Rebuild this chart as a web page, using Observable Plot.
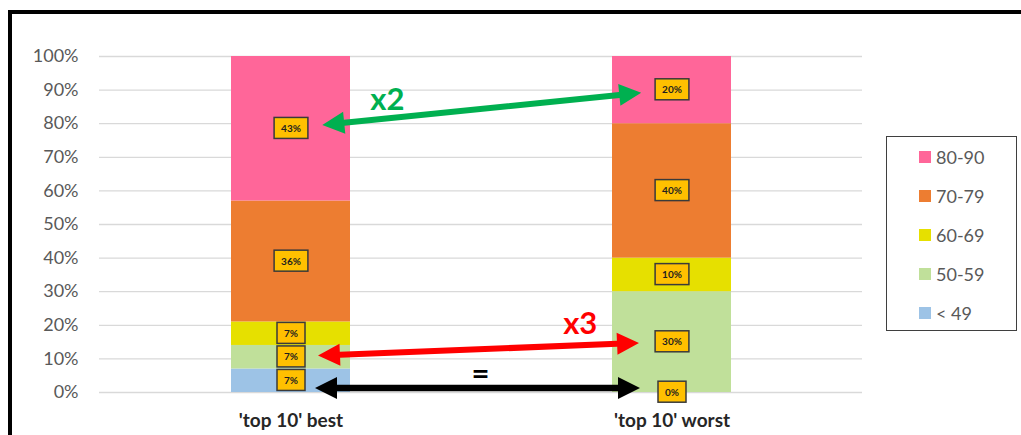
<!DOCTYPE html>
<html>
<head>
<meta charset="utf-8">
<script src="https://cdn.jsdelivr.net/npm/d3@7"></script>
<script src="https://cdn.jsdelivr.net/npm/@observablehq/plot@0.6"></script>
<style>
  html, body { margin: 0; padding: 0; background: #fff; }
  #wrap { position: relative; width: 1021px; height: 435px; overflow: hidden; background: #fff; }
  #wrap svg { position: absolute; left: 0; top: 0; background: transparent; }
  #frame { position: absolute; left: 8px; top: 10px; width: 1100px; height: 600px; border: 4px solid #000; box-sizing: border-box; pointer-events: none; }
  #legend { position: absolute; left: 886px; top: 136px; width: 131px; height: 195px; box-sizing: border-box;
            border: 1.5px solid #3f3f3f; padding-top: 1px; font-family: Lato, "Open Sans", sans-serif; font-size: 18px; color: #595959; }
  .item { height: 38.8px; display: flex; align-items: center; padding-left: 32px; }
  .sw { width: 12px; height: 12px; margin-right: 5px; flex: none; }
</style>
</head>
<body>
<div id="wrap"><div id="legend"></div><div id="frame"></div></div>
<script>
// ---- data ----
const groups = ["'top 10' best", "'top 10' worst"];
const bands = ["< 49", "50-59", "60-69", "70-79", "80-90"];
const bestValues = [7, 7, 7, 36, 43];
const worstValues = [0, 30, 10, 40, 20];
const bandColors = ["#9DC3E6", "#C0E09A", "#E6E000", "#ED7D31", "#FF6699"];
const yTicks = [0, 10, 20, 30, 40, 50, 60, 70, 80, 90, 100];
// comparison arrows (best -> worst), y values in %
const arrowFrom = [78.5, 10.5, 1.2];
const arrowTo = [90, 15, 1.2];
const arrowText = ["x2", "x3", "="];
const arrowColors = ["#00B050", "#FF0000", "#000000"];

const table = [];
groups.forEach((g, gi) => {
  const vals = gi === 0 ? bestValues : worstValues;
  bands.forEach((b, bi) => table.push({group: g, band: b, value: vals[bi]}));
});

const plot = Plot.plot({
  width: 1021,
  height: 435,
  marginLeft: 99,
  marginRight: 159,
  marginTop: 56,
  marginBottom: 43,
  style: {fontFamily: "Lato, 'Open Sans', sans-serif", background: "transparent", overflow: "visible"},
  x: {domain: groups, paddingInner: 0.688, paddingOuter: 0.343, axis: null},
  y: {domain: [0, 100], axis: null},
  color: {domain: bands, range: bandColors},
  marks: [
    Plot.ruleY(yTicks, {stroke: "#d9d9d9", strokeWidth: 1.3}),
    Plot.barY(table, {x: "group", y: "value", fill: "band"}),
    Plot.text(table, Plot.stackY({x: "group", y: "value", z: "band", text: d => d.value + "%",
      fontSize: 10, fontWeight: "bold", fill: "#1f1f1f"})),
    Plot.axisY(yTicks, {tickFormat: d => d + "%", tickSize: 0, tickPadding: 21, fontSize: 18, fill: "#595959", label: null}),
    Plot.axisX({tickSize: 0, tickPadding: 21, fontSize: 19, fontWeight: "bold", fill: "#262626", label: null})
  ]
});

const wrap = document.getElementById("wrap");
wrap.insertBefore(plot, wrap.firstChild);

const NS = "http://www.w3.org/2000/svg";
// label boxes behind the value labels
const textGroup = plot.querySelector('g[aria-label="text"]');
if (textGroup) {
  for (const t of Array.from(textGroup.querySelectorAll("text"))) {
    const bb = t.getBBox();
    const r = document.createElementNS(NS, "rect");
    const w = bb.width + 14, h = 21;
    r.setAttribute("x", bb.x + bb.width / 2 - w / 2);
    r.setAttribute("y", bb.y + bb.height / 2 - h / 2);
    r.setAttribute("width", w);
    r.setAttribute("height", h);
    r.setAttribute("fill", "#FFC000");
    r.setAttribute("stroke", "#3a3a3a");
    r.setAttribute("stroke-width", 1.5);
    const tr = t.getAttribute("transform");
    if (tr) r.setAttribute("transform", tr);
    textGroup.insertBefore(r, t);
  }
}

// arrows through the plot's scales
const xs = plot.scale("x"), ys = plot.scale("y");
const cx = g => xs.apply(g) + xs.bandwidth / 2;
const insetStart = [32, 27.5, 24.5], insetEnd = [30.5, 32.5, 31.5];
const shaftHalf = [3, 3, 3.3], headLen = 22, headHalf = 11;
const textT = [0.204, 0.817, 0.509], textOff = [-8.5, -11, -4];
const ag = document.createElementNS(NS, "g");
arrowFrom.forEach((v, i) => {
  let x1 = cx(groups[0]), y1 = ys.apply(v), x2 = cx(groups[1]), y2 = ys.apply(arrowTo[i]);
  const L = Math.hypot(x2 - x1, y2 - y1), ux = (x2 - x1) / L, uy = (y2 - y1) / L;
  const ax = x1 + ux * insetStart[i], ay = y1 + uy * insetStart[i];
  const bx = x2 - ux * insetEnd[i], by = y2 - uy * insetEnd[i];
  const nx = -uy, ny = ux, s = shaftHalf[i];
  const P = (px, py, h, n) => [px + ux * h + nx * n, py + uy * h + ny * n];
  const pts = [
    [ax, ay], P(ax, ay, headLen, headHalf), P(ax, ay, headLen, s), P(bx, by, -headLen, s), P(bx, by, -headLen, headHalf),
    [bx, by], P(bx, by, -headLen, -headHalf), P(bx, by, -headLen, -s), P(ax, ay, headLen, -s), P(ax, ay, headLen, -headHalf)
  ];
  const p = document.createElementNS(NS, "path");
  p.setAttribute("d", "M" + pts.map(q => q[0].toFixed(1) + "," + q[1].toFixed(1)).join("L") + "Z");
  p.setAttribute("fill", arrowColors[i]);
  ag.appendChild(p);
  const t = document.createElementNS(NS, "text");
  const tx = ax + (bx - ax) * textT[i], ty = ay + (by - ay) * textT[i] + textOff[i];
  t.setAttribute("x", tx);
  t.setAttribute("y", ty);
  t.setAttribute("text-anchor", "middle");
  t.setAttribute("font-size", 31);
  t.setAttribute("font-weight", "bold");
  t.setAttribute("font-family", "Lato, 'Open Sans', sans-serif");
  t.setAttribute("fill", arrowColors[i]);
  t.textContent = arrowText[i];
  ag.appendChild(t);
});
plot.appendChild(ag);

// legend (top to bottom: highest band first)
const legend = document.getElementById("legend");
bands.slice().reverse().forEach((b) => {
  const it = document.createElement("div");
  it.className = "item";
  const sw = document.createElement("span");
  sw.className = "sw";
  sw.style.background = bandColors[bands.indexOf(b)];
  const lb = document.createElement("span");
  lb.textContent = b;
  it.appendChild(sw); it.appendChild(lb);
  legend.appendChild(it);
});
</script>
</body>
</html>
